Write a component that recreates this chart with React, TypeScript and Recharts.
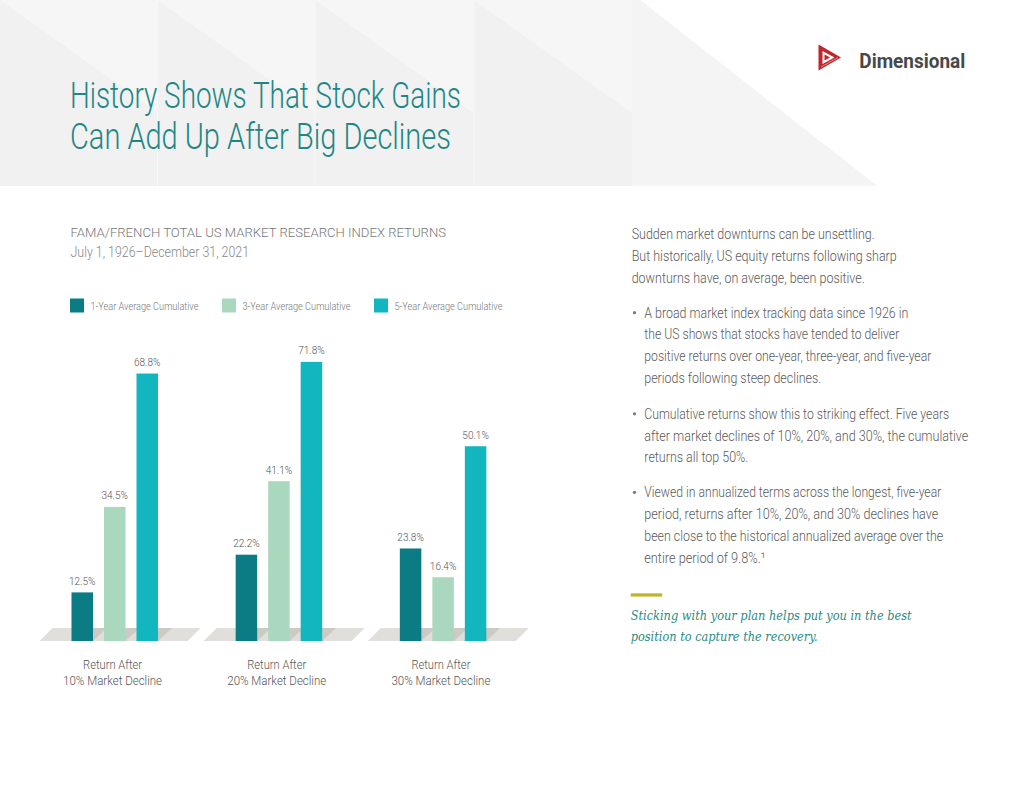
import React from "react";
import { BarChart, Bar, XAxis, YAxis, Legend, LabelList } from "recharts";

// ---------- data ----------
const categories = ["10% Market Decline", "20% Market Decline", "30% Market Decline"];
const tickLineOne = "Return After";
const oneYearCumulative = [12.5, 22.2, 23.8];
const threeYearCumulative = [34.5, 41.1, 16.4];
const fiveYearCumulative = [68.8, 71.8, 50.1];
const seriesKeys = ["oneYear", "threeYear", "fiveYear"];
const seriesNames = ["1-Year Average Cumulative", "3-Year Average Cumulative", "5-Year Average Cumulative"];
const seriesColors = ["#0b7b84", "#aad8be", "#11b6be"];
const yDomain = [0, 80];

const data = categories.map((name, i) => ({
  name,
  oneYear: oneYearCumulative[i],
  threeYear: threeYearCumulative[i],
  fiveYear: fiveYearCumulative[i],
}));

// ---------- text blocks ----------
const titleLines = ["History Shows That Stock Gains", "Can Add Up After Big Declines"];
const subtitle = "FAMA/FRENCH TOTAL US MARKET RESEARCH INDEX RETURNS";
const dateRange = "July 1, 1926–December 31, 2021";
const introLines = [
  "Sudden market downturns can be unsettling.",
  "But historically, US equity returns following sharp",
  "downturns have, on average, been positive.",
];
const bullets = [
  [
    "A broad market index tracking data since 1926 in",
    "the US shows that stocks have tended to deliver",
    "positive returns over one-year, three-year, and five-year",
    "periods following steep declines.",
  ],
  [
    "Cumulative returns show this to striking effect. Five years",
    "after market declines of 10%, 20%, and 30%, the cumulative",
    "returns all top 50%.",
  ],
  [
    "Viewed in annualized terms across the longest, five-year",
    "period, returns after 10%, 20%, and 30% declines have",
    "been close to the historical annualized average over the",
    "entire period of 9.8%.¹",
  ],
];
const calloutLines = [
  "Sticking with your plan helps put you in the best",
  "position to capture the recovery.",
];

// ---------- layout / style constants ----------
const SANS = "Roboto, 'Open Sans', sans-serif";
const introWidths = [243, 265, 233];
const introBaselines = [239, 261, 283];
const bulletWidths = [
  [264, 255, 287, 177],
  [305, 324, 104],
  [297, 294, 299, 121],
];
const bulletBaselines = [
  [317.7, 339.4, 361.1, 382.8],
  [418.8, 440.5, 462],
  [497.3, 519.2, 541, 562.8],
];
const calloutWidths = [281, 187];
const calloutBaselines = [620, 641];

const FLOOR = "#e1dfdb";
const SHADOW = "#cdcac6";

function FloorBar(props: any) {
  const { x, y, width, height, fill } = props;
  const bottom = y + height;
  const floor = [
    [x - 32, bottom],
    [x + 116, bottom],
    [x + 129, bottom - 13],
    [x - 19, bottom - 13],
  ]
    .map((p) => p.join(","))
    .join(" ");
  const shadow = [
    [x, bottom],
    [x + width, bottom],
    [x + width + 14, bottom - 13],
    [x + 14, bottom - 13],
  ]
    .map((p) => p.join(","))
    .join(" ");
  return (
    <g>
      <polygon points={floor} fill={FLOOR} />
      <polygon points={shadow} fill={SHADOW} />
      <rect x={x} y={y} width={width} height={height} fill={fill} />
    </g>
  );
}

function ShadowBar(props: any) {
  const { x, y, width, height, fill } = props;
  const bottom = y + height;
  const shadow = [
    [x, bottom],
    [x + width, bottom],
    [x + width + 14, bottom - 13],
    [x + 14, bottom - 13],
  ]
    .map((p) => p.join(","))
    .join(" ");
  return (
    <g>
      <polygon points={shadow} fill={SHADOW} />
      <rect x={x} y={y} width={width} height={height} fill={fill} />
    </g>
  );
}

function ValueLabel(props: any) {
  const { x, y, width, value } = props;
  return (
    <text
      x={x + width / 2}
      y={y - 7.5}
      textAnchor="middle"
      fontFamily={SANS}
      fontWeight={300}
      fontSize={11}
      fill="#555"
      textLength={26.5}
      lengthAdjust="spacingAndGlyphs"
    >
      {`${Number(value).toFixed(1)}%`}
    </text>
  );
}

function DeclineTick(props: any) {
  const { x, y, payload } = props;
  return (
    <g>
      <text
        x={x - 2}
        y={y + 28}
        textAnchor="middle"
        fontFamily={SANS}
        fontWeight={300}
        fontSize={13}
        fill="#555"
        textLength={59}
        lengthAdjust="spacingAndGlyphs"
      >
        {tickLineOne}
      </text>
      <text
        x={x - 2}
        y={y + 43.5}
        textAnchor="middle"
        fontFamily={SANS}
        fontWeight={300}
        fontSize={13}
        fill="#555"
        textLength={99}
        lengthAdjust="spacingAndGlyphs"
      >
        {payload.value}
      </text>
    </g>
  );
}

function LegendContent(props: any) {
  const payload = props.payload || [];
  return (
    <div style={{ position: "relative", width: 520, height: 16 }}>
      {payload.map((entry: any, i: number) => (
        <div key={i} style={{ position: "absolute", left: 69.5 + i * 152, top: 0, height: 16 }}>
          <svg width={150} height={16} style={{ display: "block" }}>
            <rect x={0} y={0.5} width={14} height={14} fill={entry.color} />
            <text
              x={20.5}
              y={12}
              fontFamily={SANS}
              fontWeight={300}
              fontSize={10.5}
              fill="#777"
              textLength={108}
              lengthAdjust="spacingAndGlyphs"
            >
              {entry.value}
            </text>
          </svg>
        </div>
      ))}
    </div>
  );
}

function Background() {
  const bands = [0, 157.5, 315, 474];
  return (
    <svg width={1024} height={791} style={{ position: "absolute", left: 0, top: 0 }}>
      <rect x={0} y={0} width={1024} height={791} fill="#ffffff" />
      <polygon points="0,0 640,0 877,186 0,186" fill="#f1f1f1" />
      {bands.map((bx, i) => (
        <polygon
          key={i}
          points={`${bx},0 ${bx + 158},0 ${bx + 158},${158 / 1.4}`}
          fill="#f6f6f6"
        />
      ))}
      <polygon points="632,0 640,0 877,186 632,186" fill="#f4f4f4" />
      {bands.slice(1).map((bx, i) => (
        <line key={i} x1={bx} y1={0} x2={bx} y2={186} stroke="#f8f8f8" strokeWidth={1} />
      ))}

      {/* logo */}
      <polygon points="818.5,44.5 841,57.5 818.5,70.5" fill="#c0272d" />
      <polygon points="822.5,51 834.5,57.5 822.5,64" fill="#ffffff" />
      <polygon points="824.5,54.5 830,57.5 824.5,60.5" fill="#c0272d" />
      <line x1={821} y1={67} x2={838} y2={57.5} stroke="#e8a0a0" strokeWidth={0.8} />
      <text
        x={859.3}
        y={67.5}
        fontFamily={SANS}
        fontWeight={700}
        fontSize={20}
        fill="#484848"
        textLength={106}
        lengthAdjust="spacingAndGlyphs"
      >
        Dimensional
      </text>

      {/* title */}
      {titleLines.map((t, i) => (
        <text
          key={i}
          x={70}
          y={108.3 + i * 41}
          fontFamily={SANS}
          fontWeight={300}
          fontSize={36}
          fill="#1e8786"
          textLength={i === 0 ? 391 : 381}
          lengthAdjust="spacingAndGlyphs"
        >
          {t}
        </text>
      ))}

      {/* chart header */}
      <text
        x={70.5}
        y={236.7}
        fontFamily={SANS}
        fontWeight={300}
        fontSize={12.7}
        fill="#777"
        textLength={375.5}
        lengthAdjust="spacingAndGlyphs"
      >
        {subtitle}
      </text>
      <text
        x={70.5}
        y={256.7}
        fontFamily={SANS}
        fontWeight={300}
        fontSize={14}
        fill="#888"
        textLength={178.6}
        lengthAdjust="spacingAndGlyphs"
      >
        {dateRange}
      </text>

      {/* right column */}
      {introLines.map((t, i) => (
        <text
          key={i}
          x={631.7}
          y={introBaselines[i]}
          fontFamily={SANS}
          fontWeight={300}
          fontSize={14.5}
          fill="#5a5a5a"
          textLength={introWidths[i]}
          lengthAdjust="spacingAndGlyphs"
        >
          {t}
        </text>
      ))}
      {bullets.map((lines, b) => (
        <g key={b}>
          <circle cx={634.5} cy={bulletBaselines[b][0] - 5} r={1.6} fill="#777" />
          {lines.map((t, i) => (
            <text
              key={i}
              x={644.3}
              y={bulletBaselines[b][i]}
              fontFamily={SANS}
              fontWeight={300}
              fontSize={14}
              fill="#5a5a5a"
              textLength={bulletWidths[b][i]}
              lengthAdjust="spacingAndGlyphs"
            >
              {t}
            </text>
          ))}
        </g>
      ))}
      <rect x={630.7} y={593.3} width={31.5} height={3.3} fill="#c3b52a" />
      {calloutLines.map((t, i) => (
        <text
          key={i}
          x={630.7}
          y={calloutBaselines[i]}
          fontFamily="'DejaVu Serif', 'Liberation Serif', serif"
          fontStyle="italic"
          fontSize={13.5}
          fill="#2b8a83"
          textLength={calloutWidths[i]}
          lengthAdjust="spacingAndGlyphs"
        >
          {t}
        </text>
      ))}
    </svg>
  );
}

export default function App() {
  const shapes = [FloorBar, ShadowBar, ShadowBar];
  return (
    <div style={{ position: "absolute", left: 0, top: 0, width: 1024, height: 791, overflow: "hidden", background: "#fff" }}>
      <Background />
      <div style={{ position: "absolute", left: 0, top: 290 }}>
        <BarChart
          width={560}
          height={420}
          data={data}
          margin={{ top: 40, right: 35, bottom: 0, left: 32.5 }}
          barSize={21.5}
          barGap={11}
        >
          <XAxis
            dataKey="name"
            axisLine={false}
            tickLine={false}
            tickSize={0}
            tickMargin={0}
            height={69}
            interval={0}
            tick={<DeclineTick />}
          />
          <YAxis hide domain={yDomain} />
          <Legend
            layout="horizontal"
            verticalAlign="middle"
            align="center"
            wrapperStyle={{ position: "absolute", top: 8, left: 0, width: 520, height: 16 }}
            content={<LegendContent />}
          />
          {seriesKeys.map((key, i) => (
            <Bar
              key={key}
              dataKey={key}
              name={seriesNames[i]}
              fill={seriesColors[i]}
              isAnimationActive={false}
              shape={shapes[i]}
            >
              <LabelList dataKey={key} content={<ValueLabel />} />
            </Bar>
          ))}
        </BarChart>
      </div>
    </div>
  );
}
